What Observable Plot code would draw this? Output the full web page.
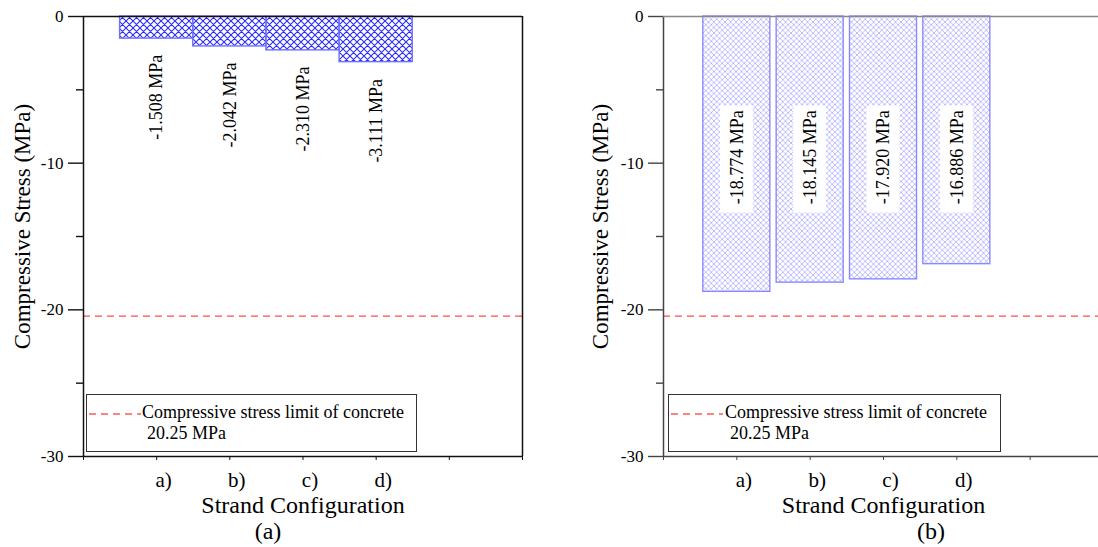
<!DOCTYPE html>
<html><head><meta charset="utf-8">
<script src="https://cdn.jsdelivr.net/npm/d3@7"></script>
<script src="https://cdn.jsdelivr.net/npm/@observablehq/plot@0.6"></script>
<style>
body{margin:0;background:#fff;overflow:hidden;font-family:"Liberation Serif",serif}
#wrap{position:relative;width:1098px;height:547px;overflow:hidden}
.panel{position:absolute;top:0;font-family:"Liberation Serif",serif !important}
.panel text{font-family:"Liberation Serif",serif}
.cap{position:absolute;font-size:24px;line-height:24px;transform:translateX(-50%);white-space:nowrap;color:#000}
.legend{position:absolute;border:1.5px solid #333;box-sizing:border-box;background:#fff;font-size:18px;color:#000;line-height:20px}
.legend svg{position:absolute}
.legend .l1{position:absolute;white-space:nowrap}
</style></head>
<body>
<svg width="0" height="0" style="position:absolute">
  <defs>
    <pattern id="hatchA" patternUnits="userSpaceOnUse" width="7" height="7">
      <path d="M-1,1 L1,-1 M0,7 L7,0 M6,8 L8,6 M-1,6 L1,8 M0,0 L7,7 M6,-1 L8,1" stroke="#2b2bff" stroke-width="1.1" fill="none"/>
    </pattern>
    <pattern id="hatchB" patternUnits="userSpaceOnUse" width="5.5" height="5.5">
      <path d="M-1,1 L1,-1 M0,5.5 L5.5,0 M4.5,6.5 L6.5,4.5 M-1,4.5 L1,6.5 M0,0 L5.5,5.5 M4.5,-1 L6.5,1" stroke="#b8b8ff" stroke-width="0.9" fill="none"/>
    </pattern>
  </defs>
</svg>
<div id="wrap"></div>
<script>
// ---- data ----
const categories = ["a)", "b)", "c)", "d)"];
const stressA = [-1.508, -2.042, -2.310, -3.111];
const stressB = [-18.774, -18.145, -17.920, -16.886];
const limitValue = -20.43;
const legendLines = ["Compressive stress limit of concrete", "20.25 MPa"];
const yMajorTicks = [0, -10, -20, -30];
const yMinorTicks = [-5, -15, -25];
const xTickPositions = [0, 1, 2, 3, 4, 5, 6];
const yTitle = "Compressive Stress (MPa)";
const xTitle = "Strand Configuration";
const panelCaptions = ["(a)", "(b)"];

const FONT = "Liberation Serif";
const wrap = document.getElementById("wrap");

function makePanel(cfg) {
  const data = cfg.values.map((v, i) => ({cat: categories[i], pos: i + 1, v}));
  const marks = [
    Plot.rect(data, {x1: d => d.pos - 0.5 + cfg.inset, x2: d => d.pos + 0.5 - cfg.inset, y1: 0, y2: d => d.v,
      fill: cfg.fill, stroke: cfg.barStroke, strokeWidth: 1.4})
  ];
  if (cfg.boxed) {
    marks.push(Plot.rect(data, {x1: d => d.pos - 0.225, x2: d => d.pos + 0.225, y1: -6.1, y2: -13.4, fill: "white"}));
    marks.push(Plot.text(data, {x: "pos", y: -9.6, text: d => d.v.toFixed(3) + " MPa", rotate: -90, fontSize: 18, fontFamily: FONT, fill: "black"}));
  } else {
    marks.push(Plot.text(data, {x: "pos", y: d => d.v - 4, text: d => d.v.toFixed(3) + " MPa", rotate: -90, fontSize: 18, fontFamily: FONT, fill: "black"}));
  }
  marks.push(
    Plot.ruleY([limitValue], {stroke: "#ff4a4a", strokeDasharray: "7,5", strokeWidth: 1.3}),
    Plot.ruleX([0], {stroke: cfg.axisColor, strokeWidth: 1.5}),
    Plot.ruleY([-30], {stroke: cfg.axisColor, strokeWidth: 1.5}),
    Plot.ruleY([0], {stroke: cfg.topColor, strokeWidth: 1.6}),
    Plot.axisY({ticks: yMajorTicks, tickSize: 15, tickPadding: 5, fontSize: 17, fontFamily: FONT, label: null, stroke: cfg.axisColor, strokeWidth: 1.4, tickFormat: d => String(d)}),
    Plot.axisY({ticks: yMinorTicks, tickSize: 7, tickFormat: () => "", label: null, stroke: cfg.axisColor, strokeWidth: 1.4}),
    Plot.axisX({ticks: xTickPositions, tickSize: 4, tickFormat: () => "", label: null, stroke: cfg.axisColor}),
    Plot.text(categories, {x: (d, i) => i + 1, y: -30, dy: 24, dx: 7, fontSize: 21, fontFamily: FONT, fill: "black", lineAnchor: "middle"}),
    Plot.text([yTitle], {frameAnchor: "left", textAnchor: "middle", lineAnchor: "middle", rotate: -90, dx: cfg.yTitleDx, dy: -10, fontSize: 23, fontFamily: FONT, fill: "black"}),
    Plot.text([xTitle], {frameAnchor: "bottom", textAnchor: "middle", lineAnchor: "middle", dy: 49, fontSize: 24, fontFamily: FONT, fill: "black"})
  );
  if (cfg.rightBorder) marks.push(Plot.ruleX([6], {stroke: cfg.axisColor, strokeWidth: 1.5}));
  const svg = Plot.plot({
    width: cfg.width, height: 512,
    marginLeft: cfg.marginLeft, marginRight: cfg.marginRight, marginTop: 16, marginBottom: 56,
    x: {domain: [0, 6], axis: null},
    y: {domain: [-30, 0], axis: null},
    style: {fontFamily: "Liberation Serif, serif", color: "black", background: "transparent", overflow: "visible"},
    marks
  });
  svg.classList.add("panel");
  svg.style.left = cfg.left + "px";
  wrap.appendChild(svg);

  // legend
  const lg = document.createElement("div");
  lg.className = "legend";
  Object.assign(lg.style, {left: cfg.legend.x + "px", top: "394px", width: cfg.legend.w + "px", height: "58px"});
  lg.innerHTML = `<svg width="60" height="6" style="left:1px;top:16px"><line x1="1" x2="53" y1="3" y2="3" stroke="#ff5a5a" stroke-width="1.3" stroke-dasharray="7,5"/></svg>
    <div class="l1" style="left:${cfg.legend.tx}px;top:7px">${legendLines[0]}</div>
    <div class="l1" style="left:${cfg.legend.tx + 5}px;top:28px">${legendLines[1]}</div>`;
  wrap.appendChild(lg);

  const cap = document.createElement("div");
  cap.className = "cap";
  cap.textContent = cfg.caption;
  Object.assign(cap.style, {left: cfg.capX + "px", top: "519px"});
  wrap.appendChild(cap);
}

makePanel({values: stressA, left: 0, width: 549, marginLeft: 83, marginRight: 27, inset: 0,
  fill: "url(#hatchA)", barStroke: "#7070ff", boxed: false, axisColor: "#111", topColor: "#111",
  rightBorder: true, yTitleDx: -61, legend: {x: 86, w: 331, tx: 55}, caption: panelCaptions[0], capX: 268});

makePanel({values: stressB, left: 549, width: 554, marginLeft: 114, marginRight: 0, inset: 0.043,
  fill: "url(#hatchB)", barStroke: "#8a8aff", boxed: true, axisColor: "#444", topColor: "#888",
  rightBorder: false, yTitleDx: -63, legend: {x: 668, w: 333, tx: 56}, caption: panelCaptions[1], capX: 931});
</script>
</body></html>
